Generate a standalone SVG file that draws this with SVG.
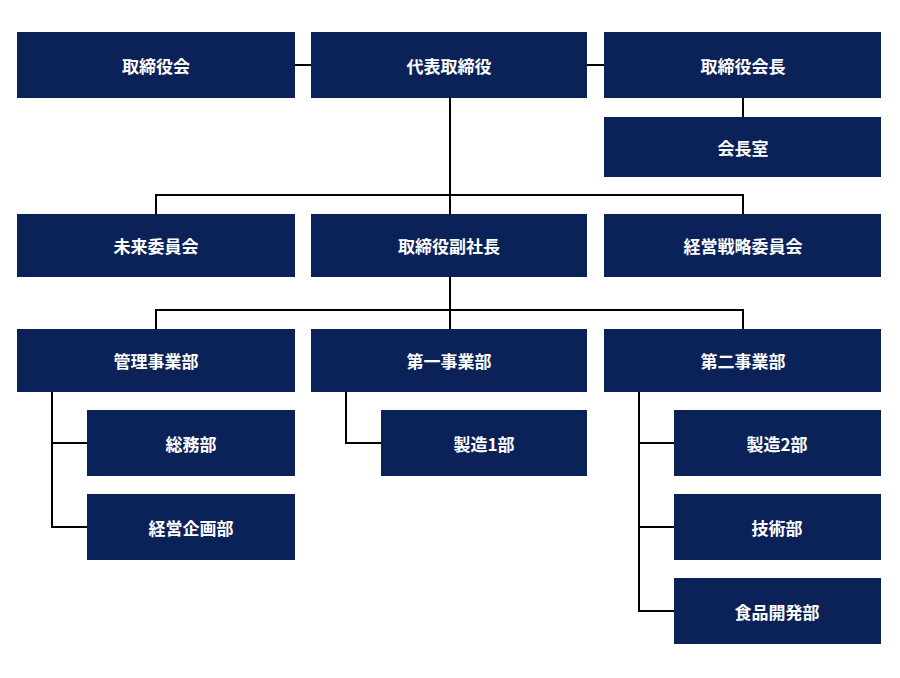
<svg xmlns="http://www.w3.org/2000/svg" width="900" height="678" viewBox="0 0 900 678">
<style>
.b{fill:#0b2259}
.t{fill:#fff;font-family:"Noto Sans CJK JP","Noto Sans",sans-serif;font-weight:bold;font-size:17px;text-anchor:middle;dominant-baseline:central}
.c{stroke:#000;stroke-width:2;fill:none}
</style>
<rect width="900" height="678" fill="#fff"/>
<g id="connectors" class="c">
<path d="M295 65H311M587 65H604M743 98V117"/>
<path d="M450 98V214M156 214V195H743V214"/>
<path d="M450 277V329M156 329V310H743V329"/>
<path d="M52 392V527H87M52 443H87"/>
<path d="M346 392V443H381"/>
<path d="M639 392V611H674M639 443H674M639 527H674"/>
</g>
<g id="n1"><rect class="b" x="17" y="32" width="278" height="66"/><text class="t" x="156" y="65">取締役会</text></g>
<g id="n2"><rect class="b" x="311" y="32" width="276" height="66"/><text class="t" x="449" y="65">代表取締役</text></g>
<g id="n3"><rect class="b" x="604" y="32" width="277" height="66"/><text class="t" x="743" y="65">取締役会長</text></g>
<g id="n4"><rect class="b" x="604" y="117" width="277" height="60"/><text class="t" x="743" y="147">会長室</text></g>
<g id="n5"><rect class="b" x="17" y="214" width="278" height="63"/><text class="t" x="156" y="245">未来委員会</text></g>
<g id="n6"><rect class="b" x="311" y="214" width="276" height="63"/><text class="t" x="449" y="245">取締役副社長</text></g>
<g id="n7"><rect class="b" x="604" y="214" width="277" height="63"/><text class="t" x="743" y="245">経営戦略委員会</text></g>
<g id="n8"><rect class="b" x="17" y="329" width="278" height="63"/><text class="t" x="156" y="360">管理事業部</text></g>
<g id="n9"><rect class="b" x="311" y="329" width="276" height="63"/><text class="t" x="449" y="360">第一事業部</text></g>
<g id="n10"><rect class="b" x="604" y="329" width="277" height="63"/><text class="t" x="743" y="360">第二事業部</text></g>
<g id="n11"><rect class="b" x="87" y="410" width="208" height="66"/><text class="t" x="191" y="443">総務部</text></g>
<g id="n12"><rect class="b" x="87" y="494" width="208" height="66"/><text class="t" x="191" y="527">経営企画部</text></g>
<g id="n13"><rect class="b" x="381" y="410" width="206" height="66"/><text class="t" x="484" y="443">製造1部</text></g>
<g id="n14"><rect class="b" x="674" y="410" width="207" height="66"/><text class="t" x="777" y="443">製造2部</text></g>
<g id="n15"><rect class="b" x="674" y="494" width="207" height="66"/><text class="t" x="777" y="527">技術部</text></g>
<g id="n16"><rect class="b" x="674" y="578" width="207" height="66"/><text class="t" x="777" y="611">食品開発部</text></g>
</svg>
